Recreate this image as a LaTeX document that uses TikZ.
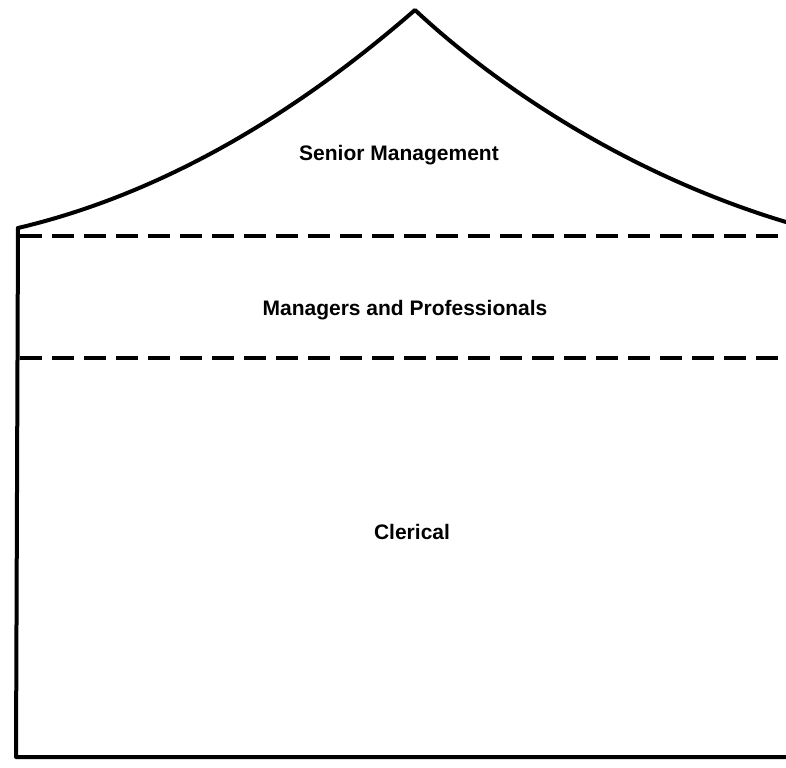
\documentclass[tikz,border=0pt]{standalone}
\usepackage{fontspec}
\setmainfont{Liberation Sans}
\usetikzlibrary{positioning}

\begin{document}
\begin{tikzpicture}[
  x=0.5pt, y=-0.5pt,
  outline/.style={line width=2pt, line join=round, line cap=round, color=black},
  tier/.style={line width=2.2pt, dash pattern=on 11pt off 5pt, color=black},
  lvl/.style={font=\fontsize{10.5}{12}\selectfont\bfseries, inner sep=0pt}
]
\useasboundingbox (0,0) rectangle (786,767);

\coordinate (eaveL) at (18,228);
\coordinate (peak)  at (415,10);
\coordinate (eaveR) at (786,222);
\coordinate (baseL) at (16,757);
\coordinate (baseR) at (786,757);

% roof
\draw[outline] (eaveL) .. controls (200,185) and (340,75) .. (peak)
               .. controls (490,80) and (620,172) .. (eaveR);
% walls
\draw[outline] (eaveL) -- (baseL) -- (baseR);

% tier boundaries
\coordinate (t1L) at (20,236);  \coordinate (t1R) at (786,236);
\coordinate (t2L) at (20,358);  \coordinate (t2R) at (786,358);
\draw[tier] (t1L) -- (t1R);
\draw[tier] (t2L) -- (t2R);

\node[lvl] (senior)  at (399,155) {Senior Management};
\node[lvl] (mgrs)    at (405,310) {Managers and Professionals};
\node[lvl] (clerks)  at (412,532) {Clerical};
\end{tikzpicture}
\end{document}
